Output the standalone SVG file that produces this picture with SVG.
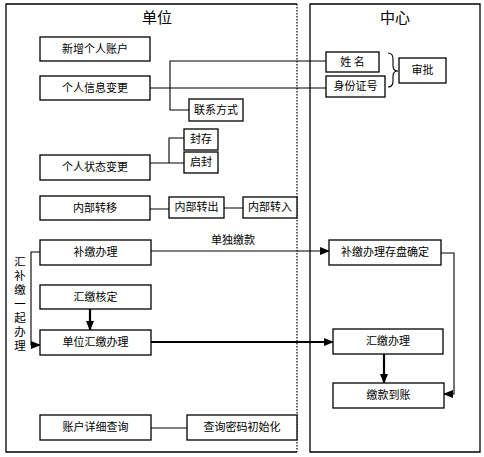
<svg xmlns="http://www.w3.org/2000/svg" width="484" height="457" viewBox="0 0 484 457">
<style>
.frame{fill:none;stroke:#000;stroke-width:1.3}
.dot{fill:none;stroke:#000;stroke-width:1.2;stroke-dasharray:1.5 1.5}
.box{fill:#fff;stroke:#000;stroke-width:1.3}
.t{font-family:"Noto Sans CJK SC","Noto Sans",sans-serif;font-size:11px;fill:#000;text-anchor:middle}
.title{font-family:"Noto Sans CJK SC","Noto Sans",sans-serif;font-size:15px;fill:#000;text-anchor:middle}
.ln{fill:none;stroke:#000;stroke-width:1.1}
.thick{fill:none;stroke:#000;stroke-width:2.2}
</style>
<defs>
<marker id="ah" markerUnits="userSpaceOnUse" markerWidth="10" markerHeight="8" refX="9" refY="4" orient="auto">
<path d="M0,0 L10,4 L0,8 Z" fill="#000"/>
</marker>
</defs>
<rect width="484" height="457" fill="#fff"/>
<g id="frame-unit">
<path class="frame" d="M297,4 H6 V452 H297"/>
<path class="dot" d="M297,4 V452"/>
<text class="title" x="157" y="23">单位</text>
</g>
<g id="frame-center">
<path class="frame" d="M310,4 H480 V452 H310 Z"/>
<text class="title" x="395" y="23">中心</text>
</g>
<g id="connectors">
<path class="ln" d="M150,88 H326"/>
<path class="ln" d="M326,61 H170 V110 H189"/>
<path class="ln" d="M150,163 H184 M169,163 V138 H184"/>
<path class="ln" d="M150,209 H169 M224,208 H243"/>
<path class="ln" d="M151,251 H329" marker-end="url(#ah)"/>
<text class="t" x="233" y="244">单独缴款</text>
<path class="thick" d="M90,309 V330" marker-end="url(#ah)"/>
<path class="thick" d="M151,342 H333" marker-end="url(#ah)"/>
<path class="ln" d="M40,252 H31 V345 H40" marker-end="url(#ah)"/>
<path class="ln" d="M441,253 H454 V394 H444" marker-end="url(#ah)"/>
<path class="thick" d="M384,354 V383" marker-end="url(#ah)"/>
<path class="ln" d="M151,428 H187"/>
<path class="ln" d="M388,53 Q393,53 393,59 V66 Q393,71 398,71 Q393,71 393,76 V81 Q393,87 388,87"/>
</g>
<g id="label-vertical">
<text x="20" y="256" writing-mode="tb" letter-spacing="2.5" style="font-family:'Noto Sans CJK SC','Noto Sans',sans-serif;font-size:11.5px;fill:#000">汇补缴一起办理</text>
</g>
<g id="n-new"><rect class="box" x="40" y="37" width="110" height="24"/><text class="t" x="95" y="53">新增个人账户</text></g>
<g id="n-info"><rect class="box" x="40" y="76" width="110" height="24"/><text class="t" x="95" y="92">个人信息变更</text></g>
<g id="n-contact"><rect class="box" x="189" y="99" width="54" height="22"/><text class="t" x="216" y="114">联系方式</text></g>
<g id="n-seal"><rect class="box" x="184" y="129" width="34" height="21"/><text class="t" x="201" y="143">封存</text></g>
<g id="n-unseal"><rect class="box" x="184" y="152" width="34" height="21"/><text class="t" x="201" y="166">启封</text></g>
<g id="n-status"><rect class="box" x="40" y="155" width="110" height="25"/><text class="t" x="95" y="171">个人状态变更</text></g>
<g id="n-transfer"><rect class="box" x="40" y="196" width="110" height="24"/><text class="t" x="95" y="212">内部转移</text></g>
<g id="n-out"><rect class="box" x="169" y="197" width="55" height="21"/><text class="t" x="196.5" y="211">内部转出</text></g>
<g id="n-in"><rect class="box" x="243" y="197" width="54" height="21"/><text class="t" x="270" y="211">内部转入</text></g>
<g id="n-name"><rect class="box" x="326" y="52" width="53" height="20"/><text class="t" x="352.5" y="66">姓 名</text></g>
<g id="n-id"><rect class="box" x="326" y="76" width="59" height="21"/><text class="t" x="355.5" y="90">身份证号</text></g>
<g id="n-approve"><rect class="box" x="399" y="58" width="47" height="25"/><text class="t" x="422.5" y="74">审批</text></g>
<g id="n-supp"><rect class="box" x="40" y="240" width="111" height="25"/><text class="t" x="95.5" y="256">补缴办理</text></g>
<g id="n-check"><rect class="box" x="40" y="285" width="111" height="24"/><text class="t" x="95.5" y="301">汇缴核定</text></g>
<g id="n-unitpay"><rect class="box" x="40" y="330" width="111" height="25"/><text class="t" x="95.5" y="346">单位汇缴办理</text></g>
<g id="n-query"><rect class="box" x="40" y="415" width="111" height="25"/><text class="t" x="95.5" y="431">账户详细查询</text></g>
<g id="n-pwd"><rect class="box" x="187" y="415" width="110" height="25"/><text class="t" x="242" y="431">查询密码初始化</text></g>
<g id="n-suppsave"><rect class="box" x="329" y="240" width="112" height="25"/><text class="t" x="385" y="256">补缴办理存盘确定</text></g>
<g id="n-pay"><rect class="box" x="333" y="329" width="110" height="25"/><text class="t" x="388" y="345">汇缴办理</text></g>
<g id="n-arrive"><rect class="box" x="333" y="383" width="111" height="25"/><text class="t" x="388.5" y="399">缴款到账</text></g>
</svg>
